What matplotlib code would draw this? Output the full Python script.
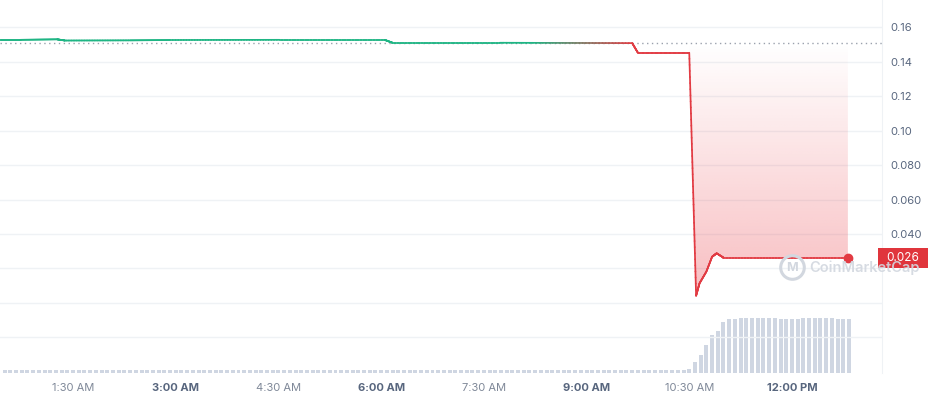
import numpy as np
import matplotlib
matplotlib.use('Agg')
import matplotlib.pyplot as plt
from matplotlib.collections import LineCollection
from matplotlib.colors import to_rgb
from matplotlib.patches import Polygon, Rectangle
import matplotlib.transforms as mtransforms

plt.rcParams['font.family'] = ['Inter', 'DejaVu Sans']

# ---------------- data ----------------
price_times = ["0:26", "0:44", "1:16", "1:23", "2:20", "2:55", "4:31", "6:03", "6:10",
               "7:44", "9:40", "9:45", "10:30", "10:36", "10:39", "10:45", "10:50",
               "10:54", "11:00", "12:49"]
price_values = [0.1526, 0.1526, 0.1529, 0.1522, 0.1523, 0.1525, 0.1526, 0.1526, 0.1509,
                0.1509, 0.1507, 0.1451, 0.1451, 0.0042, 0.0114, 0.0182, 0.0268,
                0.0288, 0.0263, 0.0263]
open_price = 0.1507

vol_start = "0:30"          # first 5-minute volume bar
vol_step_min = 5
volume = [
    3.5, 3.5, 3.5, 3.5, 3.5, 3.5, 3.5, 3.5, 3.5, 3.5, 3.5, 3.5,
    3.5, 3.5, 3.5, 3.5, 3.5, 3.5, 3.5, 3.5, 3.5, 3.5, 3.5, 3.5,
    3.5, 3.5, 3.5, 3.5, 3.5, 3.5, 3.5, 3.5, 3.5, 3.5, 3.5, 3.5,
    3.5, 3.5, 3.5, 3.5, 3.5, 3.5, 3.5, 3.5, 3.5, 3.5, 3.5, 3.5,
    3.5, 3.5, 3.5, 3.5, 3.5, 3.5, 3.5, 3.5, 3.5, 3.5, 3.5, 3.5,
    3.5, 3.5, 3.5, 3.5, 3.5, 3.5, 3.5, 3.5, 3.5, 3.5, 3.5, 3.0,
    3.0, 2.8, 3.2, 3.5, 3.5, 3.5, 3.5, 3.5, 3.5, 3.5, 3.5, 3.5,
    3.5, 3.5, 3.5, 3.5, 3.5, 3.5, 3.5, 3.5, 3.5, 3.5, 3.5, 3.5,
    3.5, 3.5, 3.5, 3.5, 3.5, 3.5, 3.5, 3.5, 3.5, 3.5, 3.5, 3.5,
    3.5, 3.5, 3.5, 3.5, 3.5, 3.5, 3.5, 3.5, 3.5, 3.5, 3.5, 3.5,
    4.0,
    11.0, 18.0, 28.0, 38.0, 42.0, 51.0, 54.0, 54.0, 55.0, 55.0,
    55.0, 55.0, 55.0, 55.0, 55.0, 54.0, 54.0, 54.0, 54.0, 55.0,
    55.0, 55.0, 55.0, 55.0, 55.0, 54.0, 54.0, 54.0,
]

xtick_hours = [1.5, 3, 4.5, 6, 7.5, 9, 10.5, 12]
xtick_labels = ["1:30 AM", "3:00 AM", "4:30 AM", "6:00 AM", "7:30 AM", "9:00 AM",
                "10:30 AM", "12:00 PM"]
xtick_bold = [False, True, False, True, False, True, False, True]

ytick_values = [0.16, 0.14, 0.12, 0.10, 0.08, 0.06, 0.04, 0.02, 0.0, -0.02]
ytick_labels = ["0.16", "0.14", "0.12", "0.10", "0.080", "0.060", "0.040", "", "", ""]

GREEN = '#1fb584'
RED = '#e23b43'


def to_hours(s):
    h, m = s.split(':')
    return int(h) + int(m) / 60.0


t = np.array([to_hours(s) for s in price_times])
p = np.array(price_values)
vt = to_hours(vol_start) + np.arange(len(volume)) * vol_step_min / 60.0

# ---------------- figure ----------------
fig = plt.figure(figsize=(9.29, 4.0), dpi=100)
pos = [0.0, 27 / 400, 882 / 929, 373 / 400]
ax2 = fig.add_axes(pos)
ax = fig.add_axes(pos, sharex=ax2)
ax.set_zorder(2)
ax2.set_zorder(1)
ax.patch.set_visible(False)

xlim = (to_hours("0:26"), 13.315)
ylim = (-0.0406, 0.1757)

# volume bars
ax2.bar(vt, volume, width=0.7 * vol_step_min / 60.0, color='#cfd6e2', linewidth=0)
ax2.set_ylim(0, max(volume) * 373 / 55)
ax2.axis('off')

# grid lines
for yv in ytick_values:
    ax.axhline(yv, color='#eff2f5', lw=1, zorder=0)

# baseline dotted
ax.axhline(open_price, color='#9aa1ad', lw=1, ls=(0, (1, 2.5)), zorder=1)

# densify line for colouring
td, pd = [], []
for i in range(len(t) - 1):
    n = 40
    td.extend(np.linspace(t[i], t[i + 1], n, endpoint=False))
    pd.extend(np.linspace(p[i], p[i + 1], n, endpoint=False))
td.append(t[-1])
pd.append(p[-1])
td = np.array(td)
pd = np.array(pd)

g = np.array(to_rgb(GREEN))
r = np.array(to_rgb(RED))
mid = 0.5 * (td[:-1] + td[1:])
frac = np.clip((mid - 8.2) / (9.7 - 8.2), 0, 1)
cols = g[None, :] * (1 - frac[:, None]) + r[None, :] * frac[:, None]
segs = np.stack([np.column_stack([td[:-1], pd[:-1]]), np.column_stack([td[1:], pd[1:]])], axis=1)
lc = LineCollection(segs, colors=cols, linewidths=1.25, zorder=4, capstyle='round', joinstyle='round')
ax.add_collection(lc)

# gradient fill below baseline
mask = td >= to_hours("10:30")
ft = td[mask]
fp = pd[mask]
verts = np.vstack([np.column_stack([ft, fp]), [[ft[-1], open_price], [ft[0], open_price]]])
poly = Polygon(verts, closed=True, fc='none', ec='none')
ax.add_patch(poly)
grad = np.zeros((256, 1, 4))
grad[..., :3] = to_rgb('#ea3943')
grad[:, 0, 3] = np.linspace(0.34, 0.0, 256)
im = ax.imshow(grad, extent=[ft[0], ft[-1], 0.0, open_price], origin='lower',
               aspect='auto', zorder=3, interpolation='bilinear')
im.set_clip_path(poly)
ax.set_xlim(*xlim)
ax.set_ylim(*ylim)

# end dot
ax.plot([t[-1]], [p[-1]], 'o', color=RED, ms=6, zorder=5)

# ticks
ax.yaxis.tick_right()
ax.set_yticks(ytick_values)
ax.set_yticklabels(ytick_labels)
ax.tick_params(axis='y', length=0, pad=6, labelsize=8, labelcolor='#58667e')
ax.set_xticks(xtick_hours)
ax.set_xticklabels(xtick_labels)
ax.tick_params(axis='x', length=0, pad=7, labelsize=8)
for lbl, b in zip(ax.get_xticklabels(), xtick_bold):
    if b:
        lbl.set_fontweight('bold')
        lbl.set_color('#58667e')
    else:
        lbl.set_color('#7f8898')

for s in ['top', 'left', 'bottom']:
    ax.spines[s].set_visible(False)
ax.spines['right'].set_color('#eff2f5')

# current price label
bt = mtransforms.blended_transform_factory(fig.transFigure, ax.transData)
box_h = 20 * 0.0005797
rect = Rectangle((878 / 929, p[-1] - box_h / 2), 51 / 929, box_h, transform=bt,
                 fc='#e0353c', ec='none', zorder=10, clip_on=False)
fig.add_artist(rect)
fig.text(903 / 929, p[-1], f"{p[-1]:.3f}", transform=bt, ha='center', va='center',
         color='white', fontsize=8.5, zorder=11)

# watermark
wm_col = '#d2d7df'
ax.plot([792 / 929], [1 - 267 / 400], marker='o', ms=17, mfc='none', mec=wm_col, mew=2.2,
        transform=fig.transFigure, zorder=6, clip_on=False)
fig.text(792 / 929, 1 - 268 / 400, 'M', ha='center', va='center', fontsize=9,
         fontweight='bold', color=wm_col, zorder=12)
fig.text(809 / 929, 1 - 268 / 400, 'CoinMarketCap', ha='left', va='center', fontsize=10.5,
         fontweight='semibold', color=wm_col, alpha=0.9, zorder=12)

fig.savefig('out.png', dpi=100)
